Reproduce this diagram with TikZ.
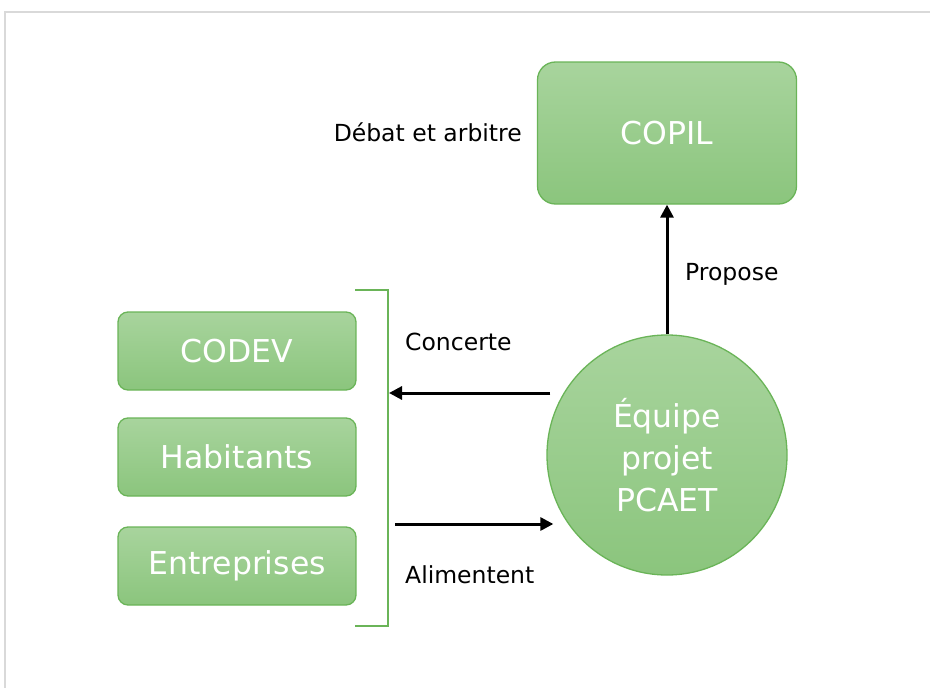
\documentclass[tikz,border=0pt]{standalone}
\usepackage{fontspec}
\setmainfont{DejaVu Sans}
\usetikzlibrary{arrows.meta,positioning}
\definecolor{boxtop}{RGB}{168,212,157}
\definecolor{boxbot}{RGB}{139,197,125}
\definecolor{boxline}{RGB}{106,180,88}
\definecolor{framegray}{RGB}{217,217,217}
\tikzset{
    greenbox/.style={draw=boxline, line width=1.3pt, top color=boxtop, bottom color=boxbot,
        text=white, inner sep=0pt, align=center, font=\fontsize{31.5}{42}\selectfont},
    arrowline/.style={line width=3pt, -{Triangle[length=13pt,width=13pt]}},
    lbl/.style={inner sep=0pt, font=\fontsize{23.5}{28}\selectfont}
}

\begin{document}
\begin{tikzpicture}[x=1pt, y=-1pt]
            \useasboundingbox (0,0) rectangle (930,688);
            \draw[framegray, line width=1.5pt] (5,688) -- (5,12) -- (930,12);
            \node[greenbox, rounded corners=18pt, minimum width=259pt, minimum height=142pt] (copil) at (667,133) {COPIL};
            \node[greenbox, circle, minimum size=240pt] (equipe) at (667,455) {Équipe\\projet\\PCAET};
            \foreach \name/\txt/\y in {codev/CODEV/351, habitants/Habitants/457, entreprises/Entreprises/566} {
                \node[greenbox, rounded corners=10pt, minimum width=238pt, minimum height=78pt] (\name) at (237,\y) {\txt};
            }
            \draw[boxline, line width=1.6pt] (355,290) -- (388,290) -- (388,626) -- (355,626);
            \coordinate (concerte) at (389,393);
            \coordinate (alimentent) at (395,524);
            \draw[arrowline] (equipe) -- (copil);
            \draw[arrowline] ([xshift=4pt]equipe.west |- concerte) -- (concerte);
            \draw[arrowline] (alimentent) -- ([xshift=7pt]equipe.west |- alimentent);
            \node[lbl, anchor=base east] at (522,141) {Débat et arbitre};
            \node[lbl, anchor=base west] at (685,280) {Propose};
            \node[lbl, anchor=base west] at (405,350) {Concerte};
            \node[lbl, anchor=base west] at (405,583) {Alimentent};
        \end{tikzpicture}
\end{document}
